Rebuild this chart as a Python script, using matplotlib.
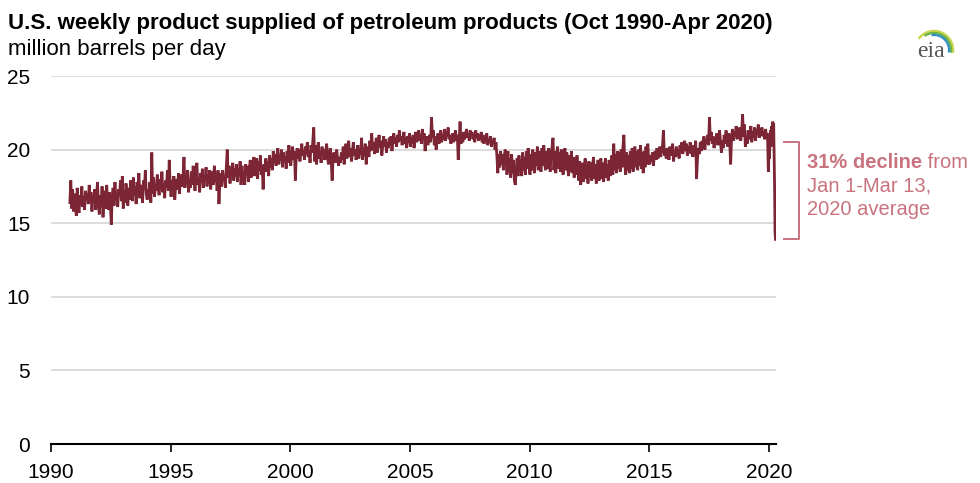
import numpy as np
import matplotlib
matplotlib.use('Agg')
import matplotlib.pyplot as plt

plt.rcParams['font.family'] = ['Liberation Sans', 'DejaVu Sans']

# weekly product supplied, million barrels per day (~2 values per month)
supply_1990 = [16.4, 17.9, 16.0, 17.3, 15.8, 17.0]  # from Oct
supply_1991 = [16.2, 15.5, 17.4, 16.0, 15.7, 16.9, 16.3, 17.5, 16.1, 16.8, 15.9, 17.2, 16.6, 17.0, 16.3, 17.6, 16.5, 17.1, 15.8, 16.9, 16.4, 17.3, 15.9, 16.7, 17.8, 16.2]
supply_1992 = [15.6, 16.9, 16.1, 17.5, 15.4, 16.6, 17.2, 16.0, 17.6, 16.3, 15.9, 17.1, 16.4, 14.9, 16.8, 17.4, 16.2, 17.8, 16.6, 17.0, 16.1, 17.3, 16.9, 17.9, 16.5, 18.2]
supply_1993 = [16.0, 17.2, 16.4, 17.7, 16.8, 16.2, 17.4, 16.6, 17.9, 17.0, 16.5, 18.1, 16.9, 17.5, 16.3, 17.8, 17.2, 18.4, 16.7, 17.6, 17.1, 16.4, 17.9, 17.3, 18.6, 17.0]
supply_1994 = [16.6, 17.3, 16.9, 17.8, 16.4, 19.8, 17.0, 18.1, 16.8, 17.6, 17.2, 18.3, 17.4, 16.9, 18.0, 17.3, 18.5, 17.1, 17.7, 16.7, 17.9, 17.4, 18.6, 17.2, 19.3, 17.6]
supply_1995 = [16.8, 17.9, 17.2, 18.2, 16.6, 17.6, 18.0, 17.3, 18.4, 17.0, 17.8, 18.3, 17.5, 18.1, 19.5, 17.4, 18.2, 17.7, 18.6, 17.1, 17.9, 17.4, 18.5, 17.6, 18.9, 17.8]
supply_1996 = [17.2, 18.3, 19.1, 17.6, 18.0, 17.1, 18.4, 17.8, 18.7, 17.4, 18.2, 17.9, 18.8, 17.5, 18.3, 17.7, 18.6, 17.3, 18.1, 18.5, 17.6, 18.9, 17.8, 18.4, 17.2, 18.6]
supply_1997 = [16.3, 17.8, 18.4, 17.5, 18.6, 17.9, 18.2, 17.4, 18.8, 20.0, 18.1, 18.9, 17.7, 18.5, 18.3, 19.1, 17.9, 18.7, 18.2, 19.0, 17.8, 18.6, 18.4, 19.2, 17.6, 18.9]
supply_1998 = [17.9, 18.5, 17.6, 19.0, 18.3, 18.9, 17.8, 18.6, 19.3, 18.1, 19.1, 18.4, 19.5, 18.2, 18.8, 19.4, 18.0, 19.2, 18.6, 19.6, 18.3, 18.9, 17.3, 19.0, 18.7, 19.4]
supply_1999 = [18.5, 19.2, 18.2, 19.6, 18.8, 19.4, 18.6, 19.9, 19.1, 19.7, 18.9, 19.5, 20.1, 19.0, 19.6, 19.3, 20.0, 18.8, 19.8, 19.2, 19.5, 18.7, 19.9, 19.1, 20.3, 19.4]
supply_2000 = [18.9, 19.6, 20.2, 19.3, 19.9, 17.9, 19.5, 20.1, 19.4, 20.0, 19.2, 19.8, 20.4, 19.6, 19.9, 19.3, 20.2, 19.7, 20.5, 19.5, 19.9, 19.1, 20.3, 19.8, 20.6, 21.5]
supply_2001 = [19.2, 20.3, 19.0, 19.8, 20.5, 19.4, 19.9, 19.1, 20.2, 19.6, 20.0, 19.3, 19.8, 20.4, 19.5, 19.0, 19.7, 20.1, 19.2, 17.9, 19.4, 19.8, 19.1, 19.6, 20.0, 19.3]
supply_2002 = [18.9, 19.5, 19.1, 19.8, 19.3, 20.2, 19.0, 19.7, 20.4, 19.4, 19.9, 20.6, 19.5, 20.1, 19.2, 19.8, 20.5, 19.6, 20.0, 19.3, 19.9, 20.3, 19.4, 20.0, 19.7, 20.8]
supply_2003 = [19.3, 20.1, 19.6, 20.4, 19.0, 19.8, 20.2, 19.5, 20.6, 19.9, 21.1, 20.0, 20.5, 19.7, 20.3, 20.8, 19.8, 20.4, 21.0, 20.1, 20.6, 19.6, 20.3, 20.9, 20.2, 20.7]
supply_2004 = [19.8, 20.5, 20.1, 20.8, 20.3, 20.9, 19.9, 20.6, 21.1, 20.4, 20.8, 20.2, 21.0, 20.5, 21.3, 20.6, 20.9, 20.3, 20.7, 21.2, 20.4, 20.8, 20.1, 20.9, 20.5, 21.1]
supply_2005 = [20.2, 20.8, 20.4, 21.0, 20.1, 20.7, 21.2, 20.5, 20.9, 21.3, 20.6, 21.0, 20.4, 21.4, 20.8, 21.1, 19.9, 20.6, 20.9, 20.3, 20.7, 21.0, 20.5, 22.2, 20.8, 21.3]
supply_2006 = [20.3, 20.9, 20.0, 20.6, 21.1, 20.4, 20.8, 21.3, 20.5, 21.0, 20.7, 21.4, 20.6, 21.2, 20.9, 21.5, 20.7, 21.0, 20.4, 20.8, 21.1, 20.5, 20.9, 21.3, 20.6, 21.0]
supply_2007 = [19.3, 20.6, 21.9, 20.4, 20.9, 20.5, 21.2, 20.7, 21.0, 21.4, 20.8, 21.1, 20.6, 21.3, 20.9, 21.2, 20.7, 21.0, 20.5, 21.3, 20.8, 21.1, 20.6, 21.0, 20.7, 21.2]
supply_2008 = [20.5, 21.0, 20.4, 20.8, 20.6, 21.1, 20.3, 20.7, 20.5, 20.9, 20.2, 20.6, 20.4, 20.8, 20.0, 20.5, 19.6, 18.4, 19.7, 18.8, 19.9, 19.0, 19.7, 18.6, 19.5, 20.0]
supply_2009 = [19.6, 18.3, 19.9, 18.5, 19.4, 18.1, 19.7, 18.4, 19.3, 17.9, 17.6, 18.6, 19.4, 18.2, 19.6, 18.5, 19.3, 18.2, 19.8, 18.6, 19.5, 18.3, 19.9, 18.7, 20.1, 18.8]
supply_2010 = [18.3, 19.7, 18.6, 20.0, 18.8, 18.4, 19.8, 18.9, 20.2, 18.6, 19.9, 18.8, 18.5, 20.1, 18.9, 20.3, 19.0, 18.6, 19.9, 18.7, 20.1, 18.9, 18.5, 19.8, 20.2, 20.8]
supply_2011 = [18.6, 19.9, 18.4, 19.7, 20.2, 18.7, 19.8, 18.5, 20.0, 18.9, 18.3, 19.7, 20.1, 18.6, 19.8, 18.7, 18.2, 19.6, 18.5, 19.9, 18.4, 19.5, 18.1, 19.4, 18.3, 19.6]
supply_2012 = [18.9, 17.9, 19.2, 17.6, 18.1, 19.1, 17.8, 18.9, 19.4, 18.0, 19.0, 17.7, 19.2, 18.1, 19.1, 17.9, 18.9, 19.5, 18.0, 19.0, 17.7, 18.8, 19.3, 17.9, 18.9, 19.4]
supply_2013 = [18.0, 19.1, 17.8, 18.9, 19.4, 18.1, 19.0, 17.9, 19.3, 18.2, 19.1, 19.6, 18.3, 20.4, 18.6, 19.7, 18.4, 19.9, 18.7, 19.8, 18.5, 20.0, 18.8, 20.2, 21.0, 19.0]
supply_2014 = [18.3, 19.8, 18.6, 19.6, 18.4, 19.9, 18.7, 20.1, 18.5, 19.7, 20.2, 18.8, 19.9, 18.6, 20.0, 18.9, 20.3, 18.7, 19.8, 18.4, 19.9, 18.8, 20.2, 19.0, 20.4, 19.1]
supply_2015 = [19.0, 19.6, 19.2, 19.8, 18.9, 19.5, 19.9, 19.3, 20.1, 19.4, 19.7, 20.2, 19.5, 19.9, 20.3, 21.3, 19.6, 20.0, 19.4, 20.1, 19.8, 19.3, 20.2, 19.6, 19.9, 20.4]
supply_2016 = [19.2, 19.9, 19.5, 20.2, 19.6, 20.0, 19.4, 20.3, 19.8, 20.5, 19.7, 20.1, 20.6, 19.9, 20.4, 19.6, 20.2, 19.8, 20.5, 19.7, 20.0, 19.5, 20.3, 19.9, 20.6, 18.0]
supply_2017 = [19.4, 20.1, 19.7, 20.5, 19.9, 20.6, 20.2, 20.9, 20.0, 20.7, 20.4, 21.0, 20.3, 22.2, 20.6, 21.2, 20.4, 20.9, 20.1, 20.8, 20.5, 21.1, 20.3, 20.7, 21.3, 20.5]
supply_2018 = [19.8, 20.6, 20.1, 21.0, 20.4, 21.3, 20.7, 20.2, 21.1, 20.5, 19.0, 20.8, 21.4, 20.6, 21.2, 20.9, 21.6, 20.7, 21.3, 20.8, 21.5, 20.6, 21.2, 22.4, 20.9, 21.7]
supply_2019 = [20.2, 20.9, 20.4, 21.3, 20.7, 21.0, 21.6, 20.5, 21.2, 20.8, 21.5, 20.6, 21.4, 21.0, 21.7, 20.8, 21.3, 21.0, 21.5, 20.9, 21.2, 20.7, 21.4, 20.9, 21.1, 18.5]
supply_2020 = [20.0, 19.4, 20.6, 21.3, 20.2, 21.0, 21.6, 20.5, 21.9, 21.2, 21.8, 19.9, 17.6, 14.4, 13.9]  # weekly to Apr 10

full_years = [supply_1991, supply_1992, supply_1993, supply_1994, supply_1995, supply_1996,
              supply_1997, supply_1998, supply_1999, supply_2000, supply_2001, supply_2002,
              supply_2003, supply_2004, supply_2005, supply_2006, supply_2007, supply_2008,
              supply_2009, supply_2010, supply_2011, supply_2012, supply_2013, supply_2014,
              supply_2015, supply_2016, supply_2017, supply_2018, supply_2019]

year_ticks = [1990, 1995, 2000, 2005, 2010, 2015, 2020]
value_ticks = [0, 5, 10, 15, 20, 25]

# time axis
xs = [1990 + (20 + i + 0.5) / 26 for i in range(len(supply_1990))]
ys = list(supply_1990)
for k, vals in enumerate(full_years):
    yr = 1991 + k
    xs += [yr + (i + 0.5) / 26 for i in range(len(vals))]
    ys += vals
xs += [2020 + (i + 0.5) / 52 for i in range(len(supply_2020))]
ys += supply_2020

line_color = '#7b2535'
note_color = '#c9737f'

fig = plt.figure(figsize=(9.8, 4.83), dpi=100)
ax = fig.add_axes([51 / 980, 1 - 444 / 483, (776 - 51) / 980, (444 - 76) / 483])

ax.plot(xs, ys, color=line_color, lw=2.0, solid_joinstyle='miter', zorder=3)

ax.set_xlim(1990, 2020.3)
ax.set_ylim(0, 25)
ax.set_xticks(year_ticks)
ax.set_yticks(value_ticks)
ax.set_xticklabels([str(t) for t in year_ticks])
ax.grid(axis='y', color='#d3d3d3', lw=1.1)
ax.set_axisbelow(True)
for s in ['top', 'right', 'left']:
    ax.spines[s].set_visible(False)
ax.spines['bottom'].set_color('black')
ax.spines['bottom'].set_linewidth(1.5)
ax.spines['bottom'].set_zorder(4)
ax.tick_params(axis='y', length=0, pad=15, labelsize=15)
ax.tick_params(axis='x', length=6, width=1.2, direction='out', pad=8, labelsize=15)

# titles
fig.text(8 / 980, 1 - 29 / 483, 'U.S. weekly product supplied of petroleum products (Oct 1990-Apr 2020)',
         fontsize=16, fontweight='bold', ha='left', va='baseline')
fig.text(8 / 980, 1 - 55 / 483, 'million barrels per day', fontsize=16, ha='left', va='baseline')

# bracket for the decline
bx0, bx1 = 2020.63, 2021.26
btop, bbot = 20.5, 13.93
ax.plot([bx0, bx1, bx1, bx0], [btop, btop, bbot, bbot], color=note_color, lw=1.4, clip_on=False)

tx = 2021.6
t1 = ax.text(tx, 19.09, '31% decline', color=note_color, fontsize=14.5, fontweight='bold',
             ha='left', va='center')
ax.annotate(' from', xy=(1, 0), xycoords=t1, ha='left', va='bottom', color=note_color, fontsize=14.5)
ax.text(tx, 17.53, 'Jan 1-Mar 13,', color=note_color, fontsize=14.5, ha='left', va='center')
ax.text(tx, 15.96, '2020 average', color=note_color, fontsize=14.5, ha='left', va='center')

# eia logo
fig.text(930.5 / 980, 1 - 57 / 483, 'eia', family=['Liberation Serif', 'DejaVu Serif'], fontsize=17,
         color='#555555', ha='center', va='baseline')
cx, cy = 934, 50
for r, c, w, a0 in [(19, '#c9d54e', 1.8, 140), (17, '#6cb346', 1.7, 120), (15, '#2f8fca', 1.6, 95)]:
    a = np.radians(np.linspace(-5, a0, 40))
    px = cx + r * np.cos(a)
    py = cy - r * np.sin(a)
    fig.add_artist(plt.Line2D(px / 980, 1 - py / 483, color=c, lw=w, transform=fig.transFigure))

fig.savefig('out.png', dpi=100)
